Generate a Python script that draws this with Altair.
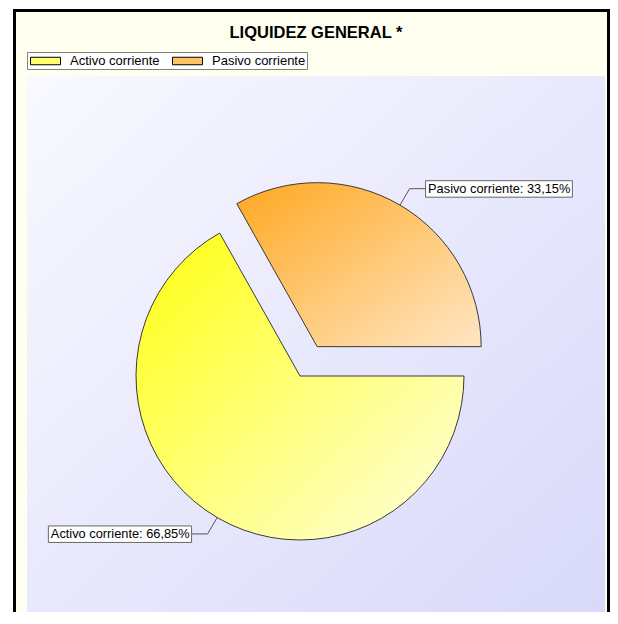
import math
import altair as alt
import pandas as pd

categories = ["Activo corriente", "Pasivo corriente"]
percentages = [66.85, 33.15]
chart_title = "LIQUIDEZ GENERAL *"
exploded_category = "Pasivo corriente"

FONT = "Liberation Sans"
LABEL_SIZE = 12.8
VIEW_W, VIEW_H = 578, 536
PLOT_H = 540
CX, CY = 273, 300
R = 164
EXPLODE = 34
R_ELBOW = 183
HSEG = 16
START = math.pi / 2

_W = {"A": 667, "P": 667, "a": 556, "c": 500, "e": 556, "i": 222, "n": 556,
      "o": 556, "r": 333, "s": 500, "t": 278, "v": 500, " ": 278, ":": 278,
      ",": 278, "%": 889}


def text_width(s, size=LABEL_SIZE):
    return sum(_W.get(ch, 556) for ch in s) * size / 1000.0


labels = [f"{c}: {v:.2f}".replace(".", ",") + "%" for c, v in zip(categories, percentages)]
df = pd.DataFrame({
    "category": categories,
    "value": percentages,
    "label": labels,
    "box_w": [text_width(s) + 4.5 for s in labels],
})

grad_activo = alt.LinearGradient(
    gradient="linear", x1=0, y1=0, x2=1, y2=1,
    stops=[alt.GradientStop(offset=0, color="#ffff10"),
           alt.GradientStop(offset=1, color="#ffffe0")])
grad_pasivo = alt.LinearGradient(
    gradient="linear", x1=0, y1=0, x2=1, y2=1,
    stops=[alt.GradientStop(offset=0, color="#ffa820"),
           alt.GradientStop(offset=1, color="#ffe6c4")])
grad_plot = alt.LinearGradient(
    gradient="linear", x1=0, y1=0, x2=1, y2=1,
    stops=[alt.GradientStop(offset=0, color="#f9f9ff"),
           alt.GradientStop(offset=1, color="#d8d8fa")])

one = pd.DataFrame({"k": [0]})

frame = alt.Chart(one).mark_rect(
    fill="#fffff0", stroke="black", strokeWidth=3
).encode(
    x=alt.value(-12.5), x2=alt.value(VIEW_W + 3.5),
    y=alt.value(-65.5), y2=alt.value(560),
)

plot_bg = alt.Chart(one).mark_rect(fill=grad_plot).encode(
    x=alt.value(0), x2=alt.value(VIEW_W), y=alt.value(0), y2=alt.value(PLOT_H),
)

base = alt.Chart(df).transform_joinaggregate(
    total="sum(value)"
).transform_window(
    cum="sum(value)", frame=[None, 0]
).transform_calculate(
    f0="(datum.cum - datum.value) / datum.total",
    f1="datum.cum / datum.total",
).transform_calculate(
    mid=f"{START} + PI * (datum.f0 + datum.f1)",
    off=f"datum.category == '{exploded_category}' ? {EXPLODE} : 0",
).transform_calculate(
    cx=f"{CX} + datum.off * sin(datum.mid)",
    cy=f"{CY} - datum.off * cos(datum.mid)",
).transform_calculate(
    ax=f"datum.cx + {R} * sin(datum.mid)",
    ay=f"datum.cy - {R} * cos(datum.mid)",
    ex=f"datum.cx + {R_ELBOW} * sin(datum.mid)",
    ey=f"datum.cy - {R_ELBOW} * cos(datum.mid)",
    side="sin(datum.mid) >= 0 ? 1 : -1",
).transform_calculate(
    hx=f"datum.ex + datum.side * {HSEG}",
).transform_calculate(
    bx0="datum.side > 0 ? datum.hx : datum.hx - datum.box_w",
).transform_calculate(
    bx1="datum.bx0 + datum.box_w",
    by0="datum.ey - 8",
    by1="datum.ey + 8.5",
    tx="datum.bx0 + 2.5",
    ty="datum.ey + 0.5",
)

px = dict(scale=None, axis=None)

arcs = base.mark_arc(radius=R, stroke="#3a3a3a", strokeWidth=1).encode(
    theta=alt.Theta("f0:Q", scale=alt.Scale(domain=[0, 1], range=[START, START + 2 * math.pi])),
    theta2="f1:Q",
    x=alt.X("cx:Q", **px),
    y=alt.Y("cy:Q", **px),
    fill=alt.condition(alt.datum.category == categories[0],
                       alt.value(grad_activo), alt.value(grad_pasivo)),
)

radial = base.mark_rule(color="#555555", strokeWidth=1).encode(
    x=alt.X("ax:Q", **px), y=alt.Y("ay:Q", **px), x2="ex:Q", y2="ey:Q",
)
horiz = base.mark_rule(color="#555555", strokeWidth=1).encode(
    x=alt.X("ex:Q", **px), y=alt.Y("ey:Q", **px), x2="hx:Q", y2="ey:Q",
)
boxes = base.mark_rect(fill="white", stroke="#666666", strokeWidth=1).encode(
    x=alt.X("bx0:Q", **px), x2="bx1:Q", y=alt.Y("by0:Q", **px), y2="by1:Q",
)
texts = base.mark_text(
    align="left", baseline="middle", font=FONT, fontSize=LABEL_SIZE, color="black"
).encode(
    x=alt.X("tx:Q", **px), y=alt.Y("ty:Q", **px), text="label:N",
)

legend_layer = alt.Chart(df).mark_rect().encode(
    x=alt.value(0), x2=alt.value(0), y=alt.value(0), y2=alt.value(0),
    fill=alt.Fill(
        "category:N",
        scale=alt.Scale(domain=categories, range=["#ffff70", "#ffc468"]),
        legend=alt.Legend(
            title=None, orient="none", legendX=0, legendY=-24,
            direction="horizontal",
            symbolType="M-2,-0.5H2V0.5H-2Z", symbolSize=225, symbolOffset=9.5,
            symbolStrokeColor="black", symbolStrokeWidth=1, symbolOpacity=1,
            labelFont=FONT, labelFontSize=13, labelColor="black",
            labelOffset=16.5, columnPadding=10, padding=1,
            fillColor="white", strokeColor="#808080",
        ),
    ),
)

chart = alt.layer(
    frame, plot_bg, arcs, radial, horiz, boxes, texts, legend_layer
).properties(
    width=VIEW_W, height=VIEW_H,
    title=alt.Title(chart_title, font=FONT, fontSize=16.5, fontWeight="bold",
                    color="black", anchor="middle", offset=-32),
    padding={"left": 19, "top": 68, "right": 5, "bottom": 0},
    autosize=alt.AutoSizeParams(type="none"),
    background="white",
).configure_view(stroke=None)

chart.save("out.html", embed_options={"renderer": "svg", "actions": False})
